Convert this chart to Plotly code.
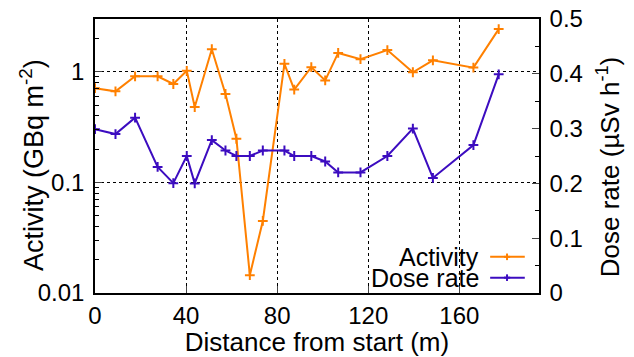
import plotly.graph_objects as go

distance = [0, 9, 17.6, 27.5, 34.4, 40.3, 43.8, 51.3, 57.3, 62.1, 68, 73.7,
            83.2, 87.5, 95, 101.1, 106.8, 116.6, 128.4, 139.6, 148.4, 166.2, 177.3]
activity = [0.71, 0.665, 0.91, 0.91, 0.775, 1.02, 0.48, 1.6, 0.63, 0.248, 0.0145, 0.0448,
            1.18, 0.69, 1.1, 0.835, 1.48, 1.3, 1.57, 0.99, 1.27, 1.09, 2.43]
dose_rate = [0.299, 0.290, 0.32, 0.230, 0.2005, 0.250, 0.2, 0.279, 0.26, 0.25, 0.25, 0.26,
             0.26, 0.25, 0.25, 0.24, 0.22, 0.22, 0.25, 0.30, 0.21, 0.27, 0.399]

x_ticks = [0, 40, 80, 120, 160]
y_ticks = [0.01, 0.1, 1]
y_ticklabels = ["0.01", "0.1", "1"]
y2_ticks = [0, 0.1, 0.2, 0.3, 0.4, 0.5]
y2_ticklabels = ["0", "0.1", "0.2", "0.3", "0.4", "0.5"]

ORANGE = "#ff8000"
BLUE = "#3c0cc0"
FONT = "Liberation Sans"
FS = 26   # axis titles
TFS = 24  # tick labels
LFS = 25  # legend

fig = go.Figure()
fig.add_trace(go.Scatter(x=distance, y=activity, mode="lines+markers", name="Activity",
                         line=dict(color=ORANGE, width=2),
                         marker=dict(symbol="cross-thin", size=7, line=dict(color=ORANGE, width=2)),
                         yaxis="y", showlegend=False))
fig.add_trace(go.Scatter(x=distance, y=dose_rate, mode="lines+markers", name="Dose rate",
                         line=dict(color=BLUE, width=2),
                         marker=dict(symbol="cross-thin", size=7, line=dict(color=BLUE, width=2)),
                         yaxis="y2", showlegend=False))

minor_log = [m * 10 ** e for e in (-2, -1) for m in range(2, 10)] + [2, 3]

fig.update_layout(
    width=634, height=357,
    margin=dict(l=95, r=95, t=19, b=64, autoexpand=False),
    plot_bgcolor="white", paper_bgcolor="white",
    font=dict(family=FONT, size=FS, color="black"),
    xaxis=dict(range=[0, 195], tickvals=x_ticks, ticks="inside", ticklen=7,
               showline=True, linecolor="black", linewidth=1.5, mirror=True,
               showgrid=True, gridcolor="black", griddash="dot", gridwidth=1,
               zeroline=False, tickfont=dict(size=TFS), automargin=False,
               title=dict(text="Distance from start (m)", font=dict(size=FS), standoff=0)),
    yaxis=dict(type="log", range=[-2, 0.477], tickvals=y_ticks, ticktext=y_ticklabels,
               ticks="inside", ticklen=7, showline=True, linecolor="black", linewidth=1.5,
               showgrid=True, gridcolor="black", griddash="dot", gridwidth=1,
               zeroline=False, tickfont=dict(size=TFS), automargin=False, ticklabelstandoff=4,
               minor=dict(tickvals=minor_log, ticks="inside", ticklen=4, showgrid=False,
                          tickcolor="black")),
    yaxis2=dict(overlaying="y", side="right", range=[0, 0.5], tickvals=y2_ticks,
                ticktext=y2_ticklabels, ticks="inside", ticklen=7,
                showline=True, linecolor="black", linewidth=1.5, showgrid=False,
                zeroline=False, tickfont=dict(size=TFS), automargin=False, ticklabelstandoff=4,
                minor=dict(dtick=0.05, ticks="inside", ticklen=4, showgrid=False,
                           tickcolor="black")),
)

# y-axis titles as rotated annotations for precise placement
fig.add_annotation(text="Activity (GBq m<sup>-2</sup>)", xref="paper", yref="paper",
                   x=-0.142, y=0.467, xanchor="center", yanchor="middle", textangle=-90,
                   showarrow=False, font=dict(size=27, family=FONT))
fig.add_annotation(text="Dose rate (µSv h<sup>-1</sup>)", xref="paper", yref="paper",
                   x=1.157, y=0.458, xanchor="center", yanchor="middle", textangle=-90,
                   showarrow=False, font=dict(size=FS, family=FONT))

# manual legend (text on the left, sample line on the right)
legend_items = [("Activity", ORANGE, 0.132), ("Dose rate", BLUE, 0.056)]
for label, color, yp in legend_items:
    fig.add_annotation(text=label, xref="paper", yref="paper", x=0.870, y=yp,
                       xanchor="right", yanchor="middle", showarrow=False,
                       font=dict(size=LFS, family=FONT))
    fig.add_shape(type="line", xref="paper", yref="paper", x0=0.890, x1=0.968, y0=yp, y1=yp,
                  line=dict(color=color, width=2))
    fig.add_shape(type="line", xref="paper", yref="paper", x0=0.921, x1=0.935, y0=yp, y1=yp,
                  line=dict(color=color, width=2))
    fig.add_shape(type="line", xref="paper", yref="paper", x0=0.928, x1=0.928,
                  y0=yp - 0.012, y1=yp + 0.012, line=dict(color=color, width=2))

fig.write_html("out.html")
